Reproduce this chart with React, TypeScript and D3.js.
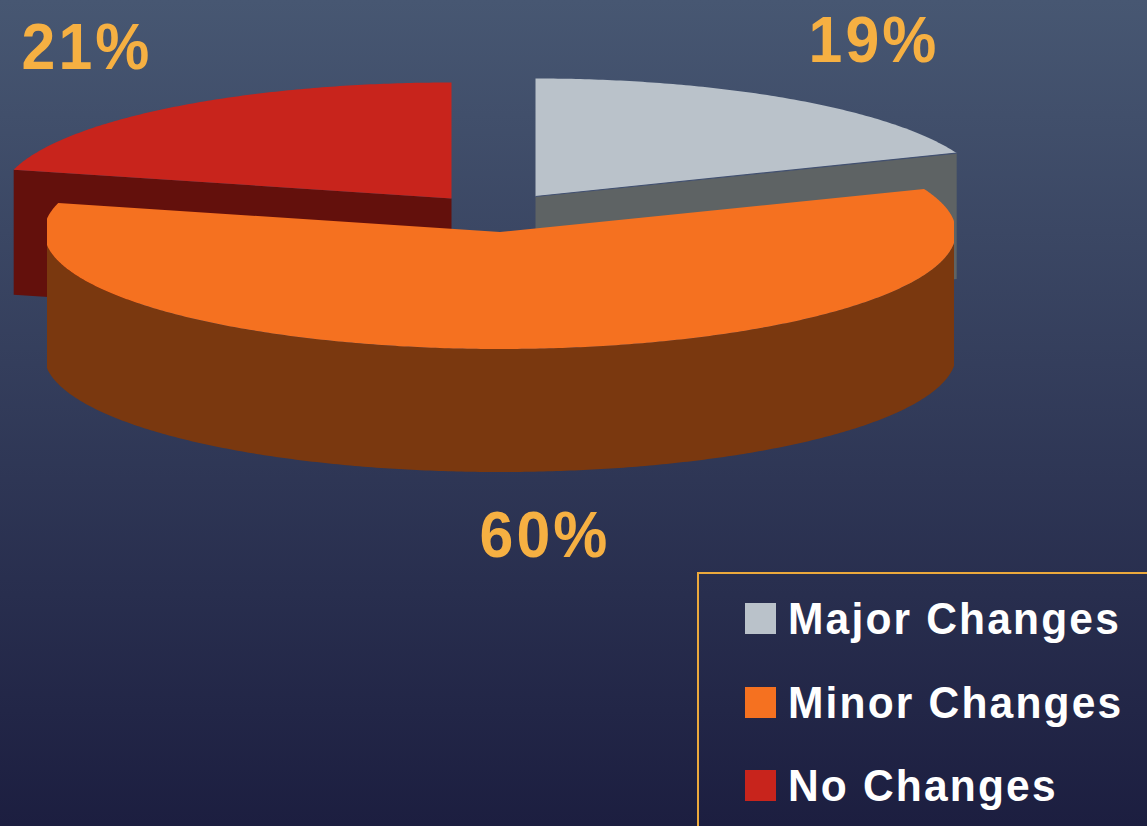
import React from "react";
import * as d3 from "d3";

const categories = ["Major Changes", "Minor Changes", "No Changes"];
const shares = [19, 60, 21];
const topColors = ["#bac2ca", "#f57120", "#c8241c"];
const wallColors = ["#5e6364", "#7a380f", "#63100c"];
const percentLabels = ["19%", "60%", "21%"];

const W = 1147, H = 826;
const centers = [
  { cx: 535.5, cy: 196.5, rx: 453, ry: 118, depth: 126 },
  { cx: 500, cy: 232, rx: 456, ry: 117, depth: 123 },
  { cx: 451.5, cy: 198.5, rx: 452, ry: 116, depth: 125 },
];
const labelPos = [
  { x: 874, y: 62 },
  { x: 545, y: 557 },
  { x: 87, y: 69 },
];
const legendRows = [603, 687, 770];

const pieGen = d3.pie<number>().sort(null).value((d) => d);
const arcs = pieGen(shares);
const xClamp = d3.scaleLinear().domain([47, 954]).range([47, 954]).clamp(true);

function rimPoint(i: number, a: number): [number, number] {
  const c = centers[i];
  const x = c.cx + c.rx * Math.sin(a);
  return [i === 1 ? xClamp(x) : x, c.cy - c.ry * Math.cos(a)];
}
const line = d3.line();
function sample(a0: number, a1: number) {
  const n = Math.ceil(Math.abs(a1 - a0) / 0.01);
  return d3.range(n + 1).map((k) => a0 + ((a1 - a0) * k) / n);
}
function topPath(i: number) {
  const c = centers[i];
  const a = arcs[i];
  return line([[c.cx, c.cy], ...sample(a.startAngle, a.endAngle).map((t) => rimPoint(i, t))]) + "Z";
}
// flat cut-face wall running from the apex to the rim end of a slice
function faceWall(i: number, angle: number) {
  const c = centers[i];
  const p = rimPoint(i, angle);
  return line([[c.cx, c.cy], p, [p[0], p[1] + c.depth], [c.cx, c.cy + c.depth]]) + "Z";
}
function rimWall(i: number) {
  const c = centers[i];
  const pts = sample(Math.PI / 2, (3 * Math.PI) / 2).map((t) => rimPoint(i, t));
  const lower = pts.map(([x, y]) => [x, y + c.depth] as [number, number]).reverse();
  return line([...pts, ...lower]) + "Z";
}

export default function App() {
  const grayEnd = rimPoint(0, arcs[0].endAngle);
  return (
    <svg
      width={W}
      height={H}
      style={{ position: "absolute", left: 0, top: 0, display: "block" }}
      fontFamily="'Liberation Sans', Arial, sans-serif"
      fontWeight="bold"
    >
      <defs>
        <linearGradient id="bg" x1="0" y1="0" x2="0" y2="1">
          <stop offset="0" stopColor="#475772" />
          <stop offset="1" stopColor="#1c1e40" />
        </linearGradient>
      </defs>
      <rect width={W} height={H} fill="url(#bg)" />

      <path d={faceWall(0, arcs[0].endAngle)} fill={wallColors[0]} />
      <path d={topPath(0)} fill={topColors[0]} />
      <line x1={centers[0].cx} y1={centers[0].cy} x2={grayEnd[0]} y2={grayEnd[1]} stroke="#42506f" strokeWidth={1.2} />

      <path d={faceWall(2, arcs[2].startAngle)} fill={wallColors[2]} />
      <path d={topPath(2)} fill={topColors[2]} />

      <path d={rimWall(1)} fill={wallColors[1]} />
      <path d={topPath(1)} fill={topColors[1]} />

      {percentLabels.map((t, i) => (
        <text
          key={t}
          transform={`translate(${labelPos[i].x},${labelPos[i].y}) scale(0.95,1)`}
          textAnchor="middle"
          fontSize={64}
          letterSpacing={3.2}
          fill="#f6b042"
        >
          {t}
        </text>
      ))}

      <path d={`M${W + 2},573H698V${H + 2}`} fill="none" stroke="#eca93c" strokeWidth={2} />
      {categories.map((c, i) => (
        <g key={c}>
          <rect x={745} y={legendRows[i]} width={31} height={31} fill={topColors[i]} />
          <text
            transform={`translate(788,${legendRows[i] + 31}) scale(0.945,1)`}
            fontSize={45}
            letterSpacing={2.3}
            fill="#ffffff"
          >
            {c}
          </text>
        </g>
      ))}
    </svg>
  );
}
